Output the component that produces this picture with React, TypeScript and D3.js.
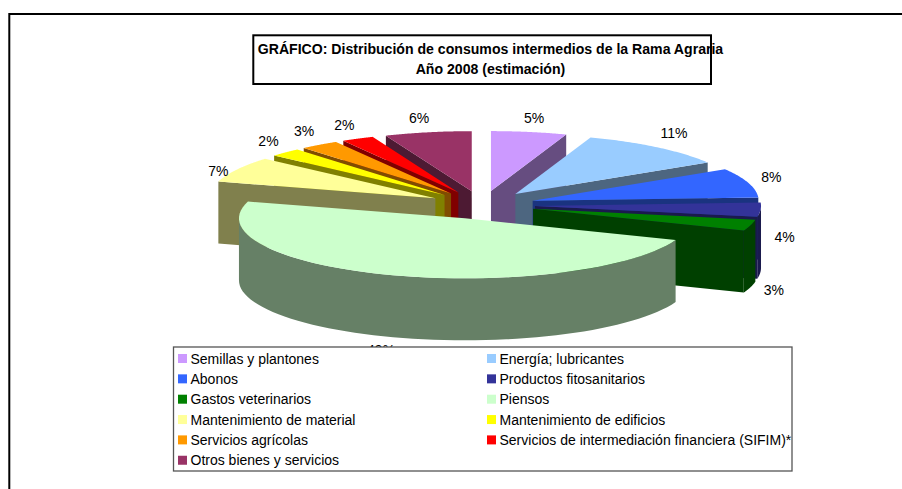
import React from "react";
import * as d3 from "d3";

const categories = ["Semillas y plantones","Energía; lubricantes","Abonos","Productos fitosanitarios","Gastos veterinarios","Piensos","Mantenimiento de material","Mantenimiento de edificios","Servicios agrícolas","Servicios de intermediación financiera (SIFIM)*","Otros bienes y servicios"];
const values = [5.4,10.8,7.9,3.8,3.0,48.6,6.9,2.3,2.8,2.3,6.2];
const topColors = ["#CC99FF","#99CCFF","#3366FF","#333399","#008000","#CCFFCC","#FFFF99","#FFFF00","#FF9900","#FF0000","#993366"];
const titleLines = ["GRÁFICO: Distribución de consumos intermedios de la Rama Agraria","Año 2008 (estimación)"];

const W = 902, H = 489;
const cx = 482, cy = 205, rx = 226, ry = 60, depth = 62, explode = 0.235;
const font = "'Liberation Sans', Arial, sans-serif";

const X = d3.scaleLinear().domain([-1, 1]).range([-rx, rx]);
const Y = d3.scaleLinear().domain([-1, 1]).range([-ry, ry]);
const fmt = d3.format(".0%");
const total = d3.sum(values);
const arcs = d3.pie<number>().sort(null).value((d) => d)(values);
const line = d3.line();
type P = [number, number];
const clamp01 = (v: number) => Math.min(1, Math.max(0, v));

function slice(a: d3.PieArcDatum<number>) {
  const mid = (a.startAngle + a.endAngle) / 2;
  const ax = cx + X(Math.sin(mid) * explode);
  const ay = cy + Y(-Math.cos(mid) * explode);
  const rim = (t: number): P => [ax + X(Math.sin(t)), ay + Y(-Math.cos(t))];
  const down = (p: P): P => [p[0], p[1] + depth];
  const steps = (s: number, e: number) => d3.range(0, 61).map((i) => s + ((e - s) * i) / 60);
  const apex: P = [ax, ay];
  const top = line([apex, ...steps(a.startAngle, a.endAngle).map(rim)])! + "Z";
  const walls: string[] = [];
  if (Math.sin(a.startAngle) < -1e-6) walls.push(line([apex, rim(a.startAngle), down(rim(a.startAngle)), down(apex)])! + "Z");
  if (Math.sin(a.endAngle) > 1e-6) walls.push(line([apex, rim(a.endAngle), down(rim(a.endAngle)), down(apex)])! + "Z");
  const s = Math.max(a.startAngle, Math.PI / 2), e = Math.min(a.endAngle, (3 * Math.PI) / 2);
  if (e > s) {
    const pts = steps(s, e).map(rim);
    walls.push(line([...pts, ...pts.slice().reverse().map(down)])! + "Z");
  }
  const rm = rim(mid);
  const sn = Math.sin(mid), cs = Math.cos(mid);
  const front = clamp01(-cs * 6.5);
  const lift = clamp01((cs - (sn < 0 ? 0.45 : 0.15)) / 0.3);
  const label: P = [
    rm[0] + (sn < 0 ? -20 * Math.sqrt(-sn) : 24 * Math.sqrt(sn) - 6 * (1 - sn)),
    rm[1] - lift * 17 + (depth - 4) * front + Math.max(0, -cs) * 15 + 8,
  ];
  return { top, walls, label };
}

const slices = arcs.map((a) => ({ ...slice(a), i: a.index, v: a.data }));
// painter's order: back slices on both flanks first, the front slice last
const order = [0, 1, 2, 3, 4, 10, 9, 8, 7, 6, 5];

export default function App() {
  return (
    <svg width={W} height={H} style={{ position: "fixed", left: 0, top: 0, background: "#fff" }} fontFamily={font}>
      <path d="M9.3 489V14H902" fill="none" stroke="#000" strokeWidth={2} />
      {order.map((i) => {
        const s = slices[i];
        const c = d3.rgb(topColors[i]);
        const dark = d3.rgb(c.r / 2, c.g / 2, c.b / 2).formatHex();
        return (
          <g key={i}>
            {s.walls.map((d, k) => <path key={k} d={d} fill={dark} />)}
            <path d={s.top} fill={topColors[i]} />
          </g>
        );
      })}
      {slices.map((s) => (
        <text key={s.i} x={s.label[0]} y={s.label[1]} textAnchor="middle" fontSize={14} fill="#000">{fmt(s.v / total)}</text>
      ))}
      <rect x={253.3} y={35.3} width={457.7} height={48.7} fill="none" stroke="#000" strokeWidth={2} />
      {titleLines.map((t, i) => (
        <text key={t} x={490.5} y={54 + i * 20} textAnchor="middle" fontSize={14.1} fontWeight="bold" fill="#000">{t}</text>
      ))}
      <rect x={173.5} y={347} width={618.5} height={124} fill="#fff" stroke="#555" strokeWidth={1.3} />
      {categories.map((c, i) => {
        const col = i % 2, row = Math.floor(i / 2);
        const x = 178 + col * 309, y = 354 + row * 20.35;
        return (
          <g key={c}>
            <rect x={x} y={y} width={9} height={9} fill={topColors[i]} />
            <text x={x + 12.5} y={y + 9.5} fontSize={14} fill="#000">{c}</text>
          </g>
        );
      })}
    </svg>
  );
}
